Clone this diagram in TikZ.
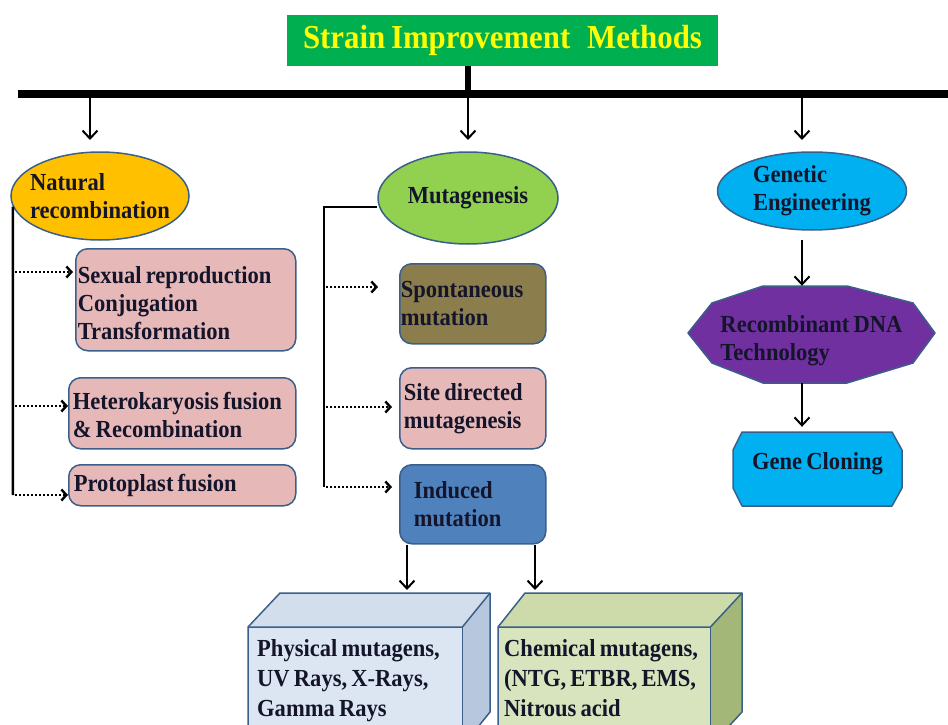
\documentclass[tikz,border=0pt]{standalone}
\usepackage{fontspec}
\setmainfont{Liberation Serif}[FakeStretch=0.92, WordSpace=0.75]
\usetikzlibrary{arrows.meta,shapes.geometric,calc}
\definecolor{tgreen}{HTML}{00B050}
\definecolor{tyellow}{HTML}{FFFF00}
\definecolor{bord}{HTML}{3A5F8A}
\definecolor{natc}{HTML}{FFC000}
\definecolor{mutc}{HTML}{92D050}
\definecolor{genc}{HTML}{00B0F0}
\definecolor{pinkc}{HTML}{E6B9B8}
\definecolor{olivec}{HTML}{8C7D4C}
\definecolor{indc}{HTML}{4F81BD}
\definecolor{purc}{HTML}{7030A0}
\definecolor{txtc}{HTML}{14142A}
\definecolor{phfront}{HTML}{DCE6F2}
\definecolor{phtop}{HTML}{D3DEEC}
\definecolor{phside}{HTML}{B7C8DE}
\definecolor{chfront}{HTML}{D7E4BD}
\definecolor{chtop}{HTML}{CCDBA9}
\definecolor{chside}{HTML}{A3B878}
\begin{document}
\begin{tikzpicture}[x=1pt,y=-1pt,
  every node/.style={font=\fontsize{24.5}{28}\selectfont\bfseries, text=txtc},
  arr/.style={line width=2pt, -{Straight Barb[length=8pt,width=15pt,line width=2pt]}},
  dotarr/.style={line width=2pt, dash pattern=on 2pt off 2pt, -{Straight Barb[length=5pt,width=11pt,line width=2.4pt]}},
  trunk/.style={line width=2.5pt},
  rbox/.style={rectangle, rounded corners=12pt, draw=bord, line width=1.5pt, anchor=north west, align=flush left, inner ysep=0pt},
  ell/.style={ellipse, draw=bord, line width=1.5pt, inner sep=0pt, align=left},
  face/.style={draw=bord, line width=1.5pt, line join=round},
  cube/.style={anchor=north west, align=flush left, inner ysep=0pt, font=\fontsize{24.5}{30}\selectfont\bfseries}
]
\useasboundingbox (0,0) rectangle (948,725);

% title and bar
\node[fill=tgreen, minimum width=431pt, minimum height=51pt, inner sep=0pt, text=tyellow,
      font=\fontsize{33.5}{36}\selectfont\bfseries] (title) at (502.5,40.5) {Strain Improvement\,\, Methods};
\coordinate (bl) at (18,94);
\coordinate (br) at (948,94);
\coordinate (a1) at (90,140);
\coordinate (a2) at (468,140);
\coordinate (a3) at (802,140);
\draw[line width=6pt] (title.south -| a2) -- (a2 |- bl);
\draw[line width=8pt] (bl) -- (br);
\draw[arr] (a1 |- bl) -- (a1);
\draw[arr] (a2 |- bl) -- (a2);
\draw[arr] (a3 |- bl) -- (a3);

% ellipses
\node[ell, fill=natc, minimum width=178pt, minimum height=88pt, inner xsep=-14pt] (nat) at (100,196) {Natural\\recombination};
\node[ell, fill=mutc, minimum width=180pt, minimum height=92pt, inner xsep=-8pt] (mut) at (468,198) {Mutagenesis};
\node[ell, fill=genc, minimum width=189pt, minimum height=78pt, inner xsep=-6pt] (gen) at (812,191) {Genetic\\Engineering};

% natural recombination branch
\node[rbox, fill=pinkc, minimum width=220pt, minimum height=102pt, text width=216pt, inner xsep=2pt] (b1) at (75,248)
  {\rule{0pt}{23pt}Sexual reproduction\\Conjugation\\Transformation};
\node[rbox, fill=pinkc, minimum width=227pt, minimum height=71pt, text width=219pt, inner xsep=4pt] (b2) at (68,377)
  {\rule{0pt}{21pt}Heterokaryosis fusion\\\& Recombination};
\node[rbox, fill=pinkc, minimum width=227pt, minimum height=41pt, text width=217pt, inner xsep=5pt] (b3) at (68,464)
  {Protoplast fusion};
\coordinate (nb) at (13,495);
\draw[trunk] (nat.187) -- (nb);
\coordinate (t1) at (13,272);
\coordinate (t2) at (13,406);
\draw[dotarr] ([xshift=2pt]t1) -- ([xshift=-2pt]t1 -| b1.west);
\draw[dotarr] ([xshift=2pt]t2) -- (t2 -| b2.west);
\draw[dotarr] ([xshift=2pt]nb) -- (nb -| b3.west);

% mutagenesis branch
\node[rbox, fill=olivec, minimum width=146pt, minimum height=80pt, text width=144pt, inner xsep=1pt] (sp) at (399,263)
  {Spontaneous\\mutation};
\node[rbox, fill=pinkc, minimum width=146pt, minimum height=81pt, text width=138pt, inner xsep=4pt] (sd) at (399,367)
  {Site directed\\mutagenesis};
\node[rbox, fill=indc, minimum width=146pt, minimum height=79pt, text width=118pt, inner xsep=14pt] (ind) at (399,464)
  {Induced\\mutation};
\coordinate (mc) at (324,207);
\coordinate (mb) at (324,487);
\draw[trunk] (mut.west |- mc) -- (mc) -- (mb);
\coordinate (m1) at (324,287);
\coordinate (m1e) at (378,287);
\coordinate (m2) at (324,407);
\draw[dotarr] ([xshift=2pt]m1) -- (m1e);
\draw[dotarr] ([xshift=2pt]m2) -- ([xshift=-7pt]m2 -| sd.west);
\draw[dotarr] ([xshift=2pt]mb) -- ([xshift=-7pt]mb -| ind.west);

% 3D boxes
\fill[phtop] (248,627) -- (280,593) -- (490,593) -- (462,627) -- cycle;
\fill[phside] (462,627) -- (490,593) -- (490,712) -- (462,746) -- cycle;
\node[cube, fill=phfront, minimum width=214pt, minimum height=119pt, text width=196pt, inner xsep=9pt] (phys) at (248,627)
  {Physical mutagens,\\UV Rays, X-Rays,\\Gamma Rays\rule[-17pt]{0pt}{0pt}};
\draw[face] (phys.south west) -- (phys.north west) -- (280,593) -- (490,593) -- (490,712) -- (phys.south east) -- cycle;
\draw[face] (phys.north west) -- (phys.north east) -- (490,593);
\draw[face] (phys.north east) -- (phys.south east);

\fill[chtop] (498,627) -- (525,593) -- (742,593) -- (710,627) -- cycle;
\fill[chside] (710,627) -- (742,593) -- (742,712) -- (710,746) -- cycle;
\node[cube, fill=chfront, minimum width=212pt, minimum height=119pt, text width=200pt, inner xsep=6pt] (chem) at (498,627)
  {Chemical mutagens,\\(NTG, ETBR, EMS,\\Nitrous acid\rule[-17pt]{0pt}{0pt}};
\draw[face] (chem.south west) -- (chem.north west) -- (525,593) -- (742,593) -- (742,712) -- (chem.south east) -- cycle;
\draw[face] (chem.north west) -- (chem.north east) -- (742,593);
\draw[face] (chem.north east) -- (chem.south east);

\coordinate (i1) at (407,590);
\coordinate (i2) at (535,590);
\draw[arr] (ind.south -| i1) -- (i1);
\draw[arr] (ind.south -| i2) -- (i2);

% genetic engineering branch
\fill[purc, draw=bord, line width=1.5pt, line join=round]
  (688,333) -- (712,303) -- (763,286) -- (847,286) -- (913,303) -- (935,333)
  -- (913,363) -- (847,383) -- (763,383) -- (712,363) -- cycle;
\node[rectangle, minimum width=247pt, minimum height=97pt, align=left, inner sep=0pt] (rdna) at (811.5,334.5)
  {\rule{0pt}{30pt}Recombinant DNA\\Technology};
\fill[genc, draw=bord, line width=1.5pt, line join=round]
  (742,432) -- (892,432) -- (902,450) -- (902,488) -- (892,506) -- (742,506) -- (733,488) -- (733,450) -- cycle;
\node[rectangle, minimum width=169pt, minimum height=74pt, inner sep=0pt] (gc) at (817.5,464) {Gene Cloning};
\coordinate (g1) at (802,240);
\draw[arr] (g1) -- (g1 |- rdna.north);
\draw[arr] (rdna.south -| g1) -- (gc.north -| g1);
\end{tikzpicture}
\end{document}
